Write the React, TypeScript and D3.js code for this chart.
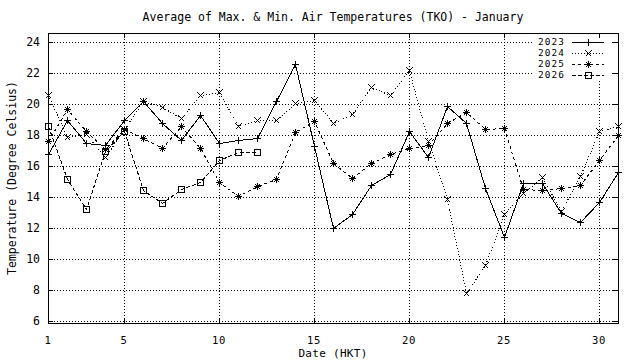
import React from "react";
import * as d3 from "d3";

const days = [1,2,3,4,5,6,7,8,9,10,11,12,13,14,15,16,17,18,19,20,21,22,23,24,25,26,27,28,29,30,31];
const t2023 = [16.8,19.0,17.5,17.4,19.0,20.2,18.8,17.7,19.3,17.5,17.7,17.85,20.2,22.6,17.3,12.0,12.9,14.8,15.5,18.3,16.6,19.9,18.8,14.6,11.4,14.9,14.9,13.0,12.4,13.7,15.6];
const t2024 = [20.6,17.9,18.1,16.6,18.4,20.2,19.85,19.1,20.6,20.8,18.6,19.0,19.0,20.1,20.3,18.8,19.35,21.1,20.6,22.2,17.6,13.9,7.8,9.6,12.9,14.3,15.3,13.1,15.4,18.3,18.6];
const t2025 = [17.6,19.7,18.3,17.1,18.4,17.85,17.15,18.6,17.15,15.0,14.05,14.75,15.15,18.2,18.95,16.2,15.25,16.2,16.8,17.2,17.35,18.8,19.5,18.4,18.5,14.55,14.45,14.6,14.8,16.4,18.0];
const t2026 = [18.6,15.2,13.25,17.0,18.3,14.45,13.65,14.55,15.0,16.4,16.95,16.95];
const seriesNames = ["2023","2024","2025","2026"];
const yTicks = [6,8,10,12,14,16,18,20,22,24];
const xTicks = [1,5,10,15,20,25,30];
const titleText = "Average of Max. & Min. Air Temperatures (TKO) - January";
const xLabel = "Date (HKT)";
const yLabel = "Temperature (Degree Celsius)";

const L = 48, R = 618, T = 33, B = 323;
const FONT = "'DejaVu Sans Mono', monospace";

function Marker({ kind, cx, cy }: { kind: string; cx: number; cy: number }) {
  const s = 3.5;
  const parts: React.ReactNode[] = [];
  if (kind === "plus" || kind === "star") {
    parts.push(<line key="h" x1={cx - s} x2={cx + s} y1={cy} y2={cy} />);
    parts.push(<line key="v" x1={cx} x2={cx} y1={cy - s} y2={cy + s} />);
  }
  if (kind === "cross" || kind === "star") {
    const d = kind === "star" ? 2.6 : 3;
    parts.push(<line key="a" x1={cx - d} x2={cx + d} y1={cy - d} y2={cy + d} />);
    parts.push(<line key="b" x1={cx - d} x2={cx + d} y1={cy + d} y2={cy - d} />);
  }
  if (kind === "box") {
    parts.push(<rect key="r" x={cx - 3} y={cy - 3} width={6} height={6} fill="none" />);
  }
  return <g stroke="#000" strokeWidth={1} fill="none" shapeRendering="crispEdges">{parts}</g>;
}

export default function App() {
  const x = d3.scaleLinear().domain([1, 31]).range([L, R]);
  const y = d3.scaleLinear().domain([5.87, 24.61]).range([B, T]);
  const series = [
    { name: seriesNames[0], vals: t2023, dash: undefined, marker: "plus" },
    { name: seriesNames[1], vals: t2024, dash: "1,2", marker: "cross" },
    { name: seriesNames[2], vals: t2025, dash: "3,3", marker: "star" },
    { name: seriesNames[3], vals: t2026, dash: "4,2", marker: "box" },
  ];
  const line = d3
    .line<number>()
    .x((_, i) => Math.round(x(days[i])) + 0.5)
    .y((v) => Math.round(y(v)) + 0.5);

  const legendTextX = 565;
  const legendX1 = 572;
  const legendX2 = 604;
  const legendY0 = 41.5;
  const legendDy = 11;

  return (
    <svg
      width={640}
      height={360}
      style={{ position: "absolute", left: 0, top: 0, background: "#fff" }}
    >
      <rect x={0} y={0} width={640} height={360} fill="#fff" />
      {/* grid */}
      <g stroke="#000" strokeWidth={1} strokeDasharray="1,2" shapeRendering="crispEdges">
        {yTicks.map((t) => (
          <line key={"gy" + t} x1={L} x2={R} y1={Math.round(y(t)) + 0.5} y2={Math.round(y(t)) + 0.5} />
        ))}
        {xTicks.filter((t) => t !== 1).map((t) => (
          <line key={"gx" + t} x1={Math.round(x(t)) + 0.5} x2={Math.round(x(t)) + 0.5} y1={T} y2={B} />
        ))}
      </g>
      {/* legend background */}
      <rect x={533} y={35} width={78} height={46} fill="#fff" />
      {/* ticks */}
      <g stroke="#000" strokeWidth={1} shapeRendering="crispEdges">
        {yTicks.map((t) => {
          const yy = Math.round(y(t)) + 0.5;
          return (
            <g key={"ty" + t}>
              <line x1={L} x2={L + 5} y1={yy} y2={yy} />
              <line x1={R - 5} x2={R} y1={yy} y2={yy} />
            </g>
          );
        })}
        {xTicks.map((t) => {
          const xx = Math.round(x(t)) + 0.5;
          return (
            <g key={"tx" + t}>
              <line x1={xx} x2={xx} y1={B - 5} y2={B} />
              <line x1={xx} x2={xx} y1={T} y2={T + 5} />
            </g>
          );
        })}
      </g>
      {/* series */}
      {series.map((s) => (
        <g key={s.name}>
          <path
            d={line(s.vals) || ""}
            fill="none"
            stroke="#000"
            strokeWidth={1}
            strokeDasharray={s.dash}
            shapeRendering="crispEdges"
          />
          {s.vals.map((v, i) => (
            <Marker key={i} kind={s.marker} cx={Math.round(x(days[i])) + 0.5} cy={Math.round(y(v)) + 0.5} />
          ))}
        </g>
      ))}
      {/* legend */}
      {series.map((s, i) => {
        const ly = legendY0 + i * legendDy;
        return (
          <g key={"lg" + s.name}>
            <text
              x={legendTextX}
              y={ly}
              dy="0.35em"
              textAnchor="end"
              fontFamily={FONT}
              fontSize={9.4}
              letterSpacing={1.1}
              fill="#000"
            >
              {s.name}
            </text>
            <line
              x1={legendX1}
              x2={legendX2}
              y1={Math.round(ly) + 0.5}
              y2={Math.round(ly) + 0.5}
              stroke="#000"
              strokeWidth={1}
              strokeDasharray={s.dash}
              shapeRendering="crispEdges"
            />
            <Marker kind={s.marker} cx={(legendX1 + legendX2) / 2 + 0.5} cy={Math.round(ly) + 0.5} />
          </g>
        );
      })}
      {/* border */}
      <rect
        x={L + 0.5}
        y={T + 0.5}
        width={R - L}
        height={B - T}
        fill="none"
        stroke="#000"
        strokeWidth={1}
        shapeRendering="crispEdges"
      />
      {/* tick labels */}
      <g fontFamily={FONT} fill="#000">
        {yTicks.map((t) => (
          <text key={"ly" + t} x={40} y={y(t)} dy="0.35em" textAnchor="end" fontSize={11.5}>
            {t}
          </text>
        ))}
        {xTicks.map((t) => (
          <text key={"lx" + t} x={x(t)} y={340} dy="0.35em" textAnchor="middle" fontSize={10.5} letterSpacing={0.6}>
            {t}
          </text>
        ))}
        <text x={(L + R) / 2} y={17} dy="0.35em" textAnchor="middle" fontSize={11.5}>
          {titleText}
        </text>
        <text x={(L + R) / 2} y={353} dy="0.35em" textAnchor="middle" fontSize={11} letterSpacing={0.3}>
          {xLabel}
        </text>
        <text
          transform={`translate(12,${(T + B) / 2}) rotate(-90)`}
          dy="0.35em"
          textAnchor="middle"
          fontSize={11.5}
        >
          {yLabel}
        </text>
      </g>
    </svg>
  );
}
